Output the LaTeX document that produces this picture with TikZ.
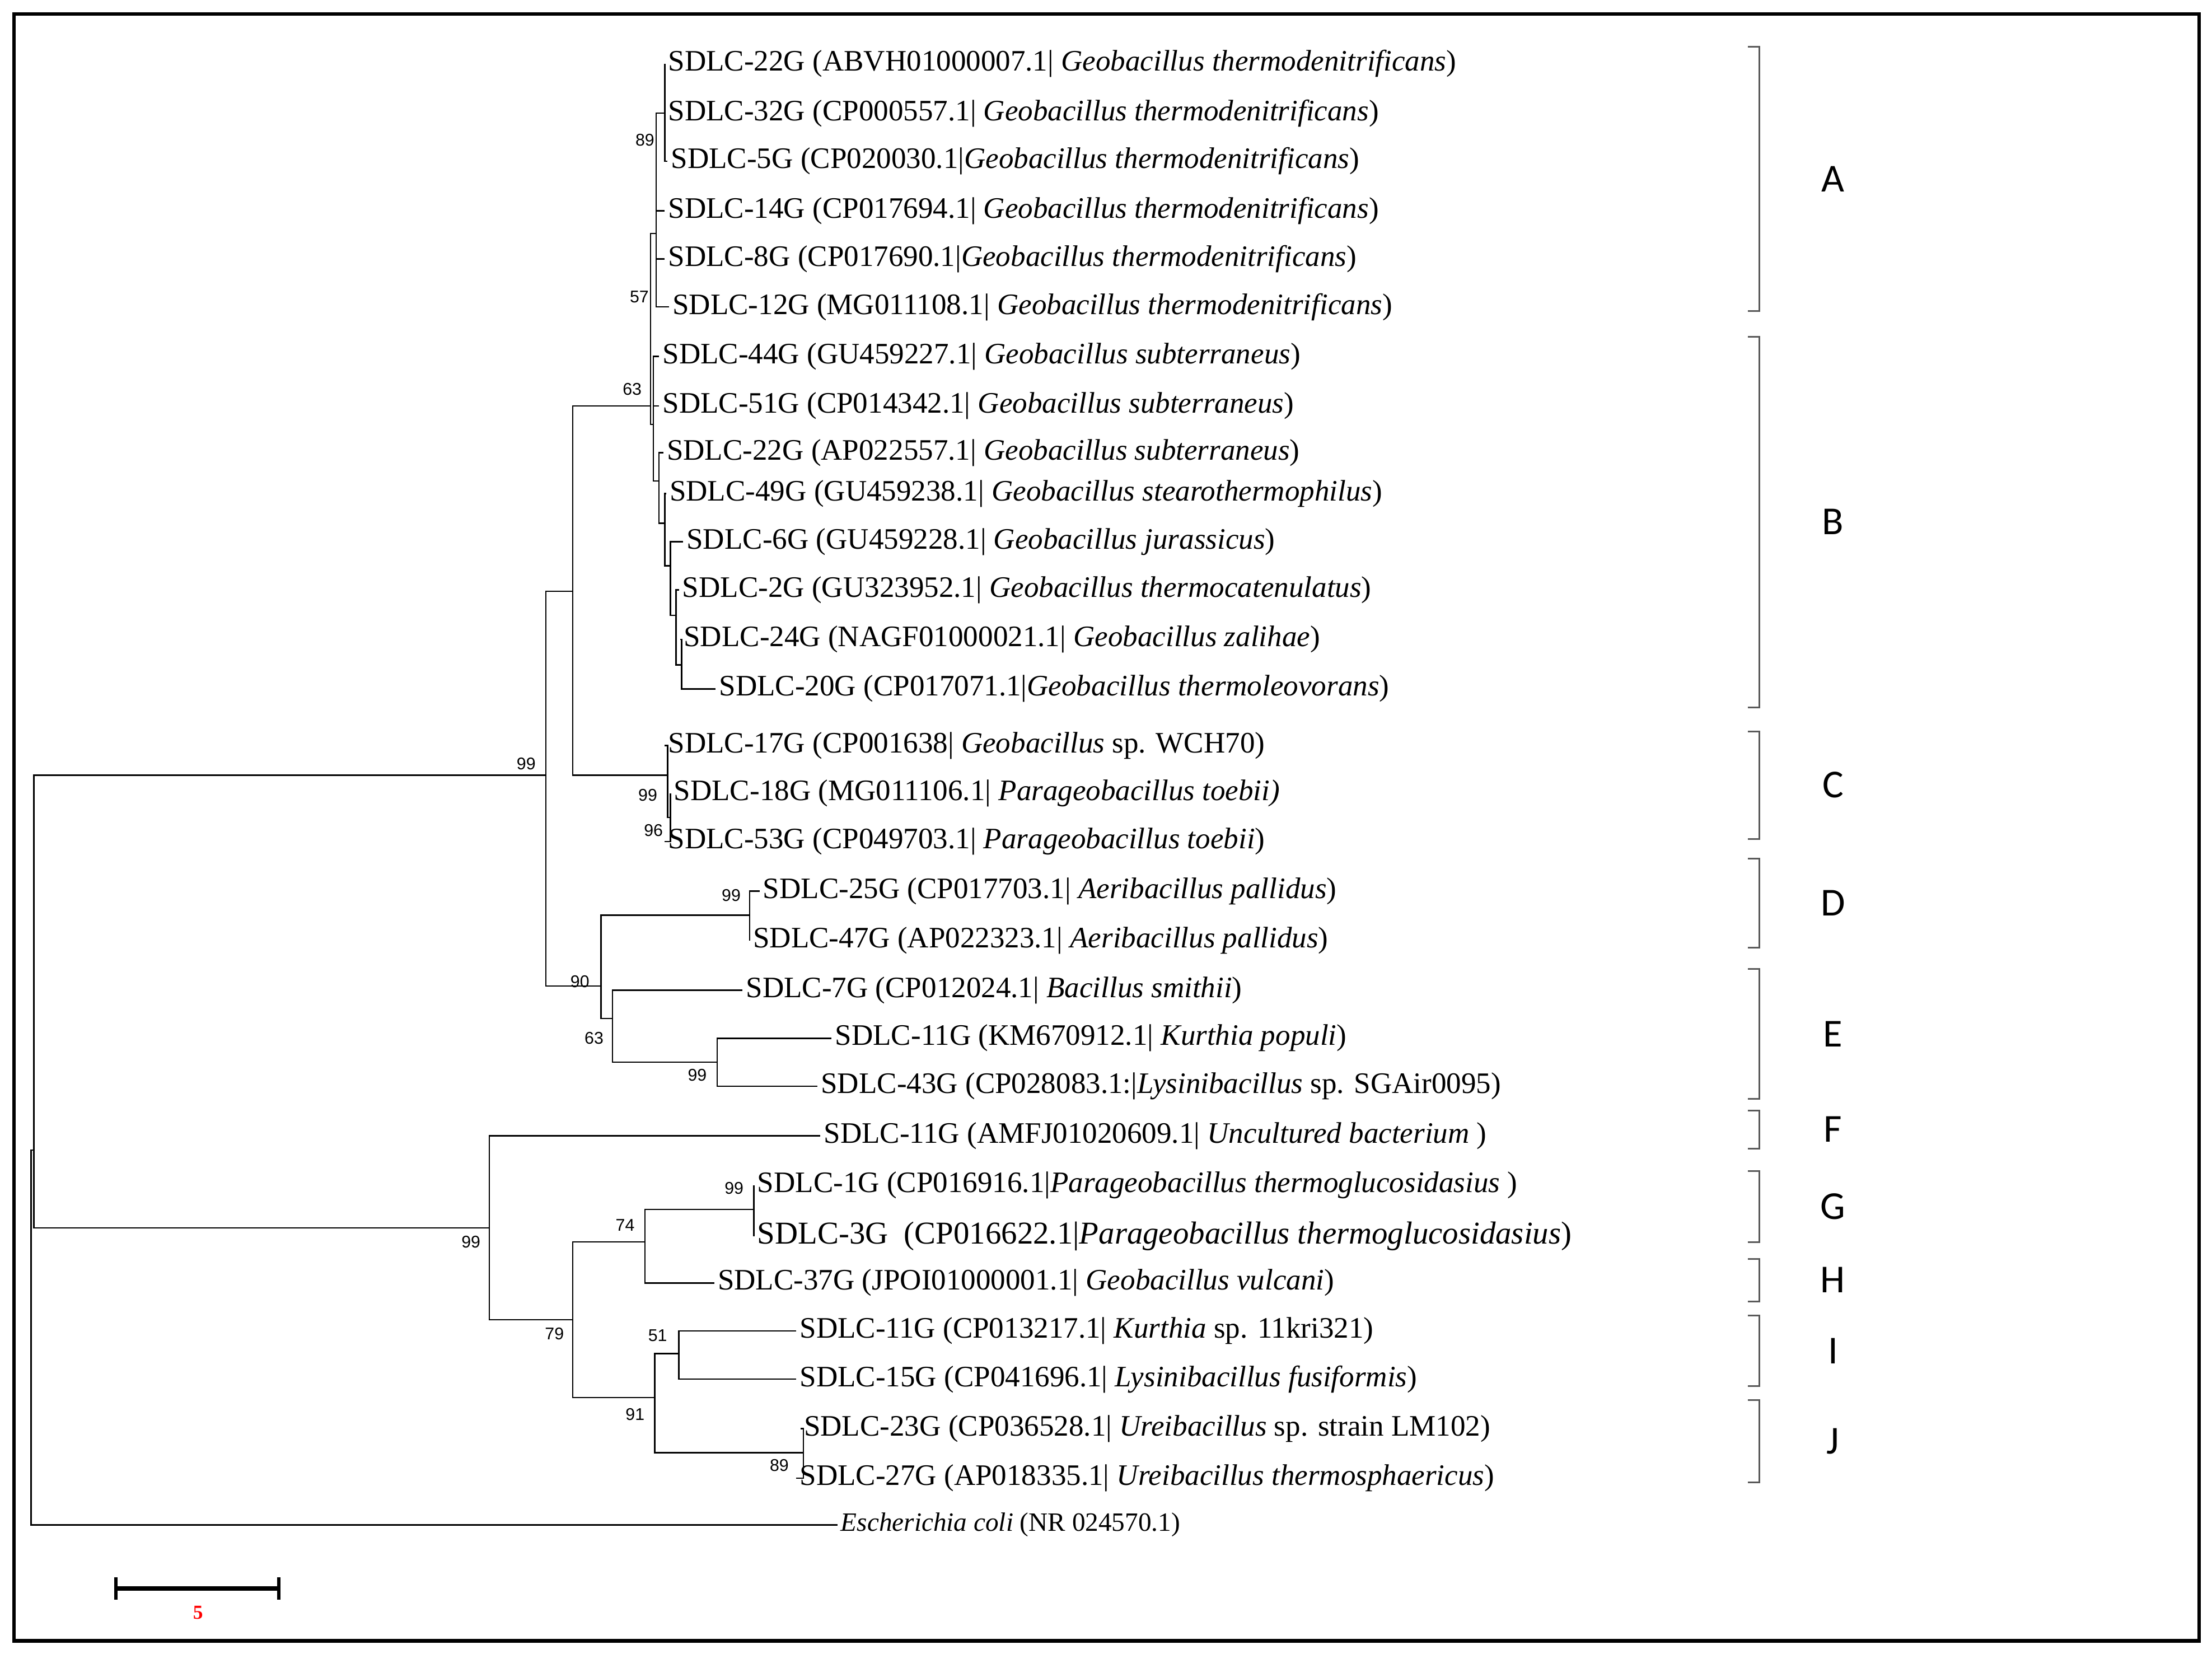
\documentclass[tikz,border=0pt]{standalone}
\usepackage{fontspec}
\setmainfont{Liberation Serif}
\newfontfamily\supf{Liberation Sans}
\newfontfamily\grpfont{Carlito}
\begin{document}
\begin{tikzpicture}[x=1pt,y=-1pt,line width=1pt,
  tip/.style={anchor=west,inner sep=2pt,font=\fontsize{21}{23}\selectfont},
  sup/.style={inner sep=0pt,font=\supf\fontsize{12}{13}\selectfont},
  grp/.style={inner sep=0pt,font=\grpfont\fontsize{28}{30}\selectfont}]
\useasboundingbox (0,0) rectangle (1564,1169);
\draw[line width=2.5pt] (10,10) rectangle (1555,1160);
% internal coordinates
\coordinate (root) at (24,813);
\coordinate (u) at (386,548);
\coordinate (n405) at (405,418);
\coordinate (AB) at (460,287);
\coordinate (A) at (464,165);
\coordinate (a1) at (470,80);
\coordinate (B) at (462,300);
\coordinate (b2) at (466,340);
\coordinate (b3) at (470,370);
\coordinate (b4) at (474,400);
\coordinate (b5) at (478,435);
\coordinate (b6) at (482,470);
\coordinate (C) at (472,548);
\coordinate (c2) at (474,578);
\coordinate (n425) at (425,697);
\coordinate (D) at (530,647);
\coordinate (E) at (433,720);
\coordinate (e2) at (507,751);
\coordinate (l) at (346,868);
\coordinate (m) at (405,933);
\coordinate (g1) at (456,878);
\coordinate (G) at (533,855);
\coordinate (ij) at (463,988);
\coordinate (I) at (480,957);
\coordinate (J) at (568,1027);
% tips
\node[tip] (t1) at (470,45) {SDLC-22G (ABVH01000007.1| \textit{Geobacillus thermodenitrificans})};
\node[tip] (t2) at (470,80) {SDLC-32G (CP000557.1| \textit{Geobacillus thermodenitrificans})};
\node[tip] (t3) at (472,114) {SDLC-5G (CP020030.1|\textit{Geobacillus thermodenitrificans})};
\node[tip] (t4) at (470,149) {SDLC-14G (CP017694.1| \textit{Geobacillus thermodenitrificans})};
\node[tip] (t5) at (470,183) {SDLC-8G (CP017690.1|\textit{Geobacillus thermodenitrificans})};
\node[tip] (t6) at (473,217) {SDLC-12G (MG011108.1| \textit{Geobacillus thermodenitrificans})};
\node[tip] (t7) at (466,252) {SDLC-44G (GU459227.1| \textit{Geobacillus subterraneus})};
\node[tip] (t8) at (466,287) {SDLC-51G (CP014342.1| \textit{Geobacillus subterraneus})};
\node[tip] (t9) at (469,320) {SDLC-22G (AP022557.1| \textit{Geobacillus subterraneus})};
\node[tip] (t10) at (471,349) {SDLC-49G (GU459238.1| \textit{Geobacillus stearothermophilus})};
\node[tip] (t11) at (483,383) {SDLC-6G (GU459228.1| \textit{Geobacillus jurassicus})};
\node[tip] (t12) at (480,417) {SDLC-2G (GU323952.1| \textit{Geobacillus thermocatenulatus})};
\node[tip] (t13) at (481,452) {SDLC-24G (NAGF01000021.1| \textit{Geobacillus zalihae})};
\node[tip] (t14) at (506,487) {SDLC-20G (CP017071.1|\textit{Geobacillus thermoleovorans})};
\node[tip] (t15) at (470,527) {SDLC-17G (CP001638| \textit{Geobacillus} sp. WCH70)};
\node[tip] (t16) at (474,561) {SDLC-18G (MG011106.1| \textit{Parageobacillus toebii)}};
\node[tip] (t17) at (470,595) {SDLC-53G (CP049703.1| \textit{Parageobacillus toebii})};
\node[tip] (t18) at (537,630) {SDLC-25G (CP017703.1| \textit{Aeribacillus pallidus})};
\node[tip] (t19) at (530,665) {SDLC-47G (AP022323.1| \textit{Aeribacillus pallidus})};
\node[tip] (t20) at (525,700) {SDLC-7G (CP012024.1| \textit{Bacillus smithii})};
\node[tip] (t21) at (588,734) {SDLC-11G (KM670912.1| \textit{Kurthia populi})};
\node[tip] (t22) at (578,768) {SDLC-43G (CP028083.1:|\textit{Lysinibacillus} sp. SGAir0095)};
\node[tip] (t23) at (580,803) {SDLC-11G (AMFJ01020609.1| \textit{Uncultured bacterium} )};
\node[tip] (t24) at (533,838) {SDLC-1G (CP016916.1|\textit{Parageobacillus thermoglucosidasius} )};
\node[tip,font=\fontsize{22.5}{24}\selectfont] (t25) at (533,874) {SDLC-3G \ (CP016622.1|\textit{Parageobacillus thermoglucosidasius})};
\node[tip] (t26) at (505,907) {SDLC-37G (JPOI01000001.1| \textit{Geobacillus vulcani})};
\node[tip] (t27) at (563,941) {SDLC-11G (CP013217.1| \textit{Kurthia} sp. 11kri321)};
\node[tip] (t28) at (563,975) {SDLC-15G (CP041696.1| \textit{Lysinibacillus fusiformis})};
\node[tip] (t29) at (566,1010) {SDLC-23G (CP036528.1| \textit{Ureibacillus} sp. strain LM102)};
\node[tip] (t30) at (563,1045) {SDLC-27G (AP018335.1| \textit{Ureibacillus thermosphaericus})};
\node[tip] (t31) at (592,1078) {\fontsize{18.7}{20}\selectfont\textit{Escherichia coli} (NR 024570.1)};
% branches
\draw (root) |- (u); \draw (root) |- (l);
\draw (24,813) -- (22,813) |- (t31.west);
\draw (u) |- (n405); \draw (u) |- (n425);
\draw (n405) |- (AB); \draw (n405) |- (C);
\draw (AB) |- (A); \draw (AB) |- (B);
\draw (A) |- (a1); \draw (A) |- (t4.west); \draw (A) |- (t5.west); \draw (A) |- (t6.west);
\draw (a1) |- (t1.west); \draw (a1) |- (t2.west); \draw (a1) |- (t3.west);
\draw (B) |- (t7.west); \draw (B) |- (t8.west); \draw (B) |- (b2);
\draw (b2) |- (t9.west); \draw (b2) |- (b3);
\draw (b3) |- (t10.west); \draw (b3) |- (b4);
\draw (b4) |- (t11.west); \draw (b4) |- (b5);
\draw (b5) |- (t12.west); \draw (b5) |- (b6);
\draw (b6) |- (t13.west); \draw (b6) |- (t14.west);
\draw (C) |- (t15.west); \draw (C) |- (c2);
\draw (c2) |- (t16.west); \draw (c2) |- (t17.west);
\draw (n425) |- (D); \draw (n425) |- (E);
\draw (D) |- (t18.west); \draw (D) |- (t19.west);
\draw (E) |- (t20.west); \draw (E) |- (e2);
\draw (e2) |- (t21.west); \draw (e2) |- (t22.west);
\draw (l) |- (t23.west); \draw (l) |- (m);
\draw (m) |- (g1); \draw (m) |- (ij);
\draw (g1) |- (G); \draw (g1) |- (t26.west);
\draw (G) |- (t24.west); \draw (G) |- (t25.west);
\draw (ij) |- (I); \draw (ij) |- (J);
\draw (I) |- (t27.west); \draw (I) |- (t28.west);
\draw (J) |- (t29.west); \draw (J) |- (t30.west);
% support values
\node[sup] (s1) at (456,99) {89};
\node[sup] (s2) at (452,210) {57};
\node[sup] (s3) at (447,275) {63};
\node[sup] (s4) at (372,540) {99};
\node[sup] (s5) at (458,562) {99};
\node[sup] (s6) at (462,587) {96};
\node[sup] (s7) at (517,633) {99};
\node[sup] (s8) at (410,694) {90};
\node[sup] (s9) at (420,734) {63};
\node[sup] (s10) at (493,760) {99};
\node[sup] (s11) at (519,840) {99};
\node[sup] (s12) at (442,866) {74};
\node[sup] (s13) at (333,878) {99};
\node[sup] (s14) at (392,943) {79};
\node[sup] (s15) at (465,944) {51};
\node[sup] (s16) at (449,1000) {91};
\node[sup] (s17) at (551,1036) {89};
% group brackets
\foreach \a/\b/\n in {33/220/A,238/500/B,517/593/C,607/670/D,685/777/E,785/812/F,828/878/G,890/920/H,930/980/I,990/1048/J}{
  \draw[gray!70!black,line width=1.2pt] (1236,\a) -- (1244,\a) -- (1244,\b) -- (1236,\b);
  \node[grp] at (1296,{(\a+\b)/2}) {\n};
}
% scale bar
\draw[line width=3pt] (82,1123) -- (197,1123);
\draw[line width=2.5pt] (82,1115) -- (82,1131);
\draw[line width=2.5pt] (197,1115) -- (197,1131);
\node[inner sep=0pt,text=red,font=\bfseries\fontsize{14}{15}\selectfont] (sb) at (140,1140) {5};
\end{tikzpicture}
\end{document}
